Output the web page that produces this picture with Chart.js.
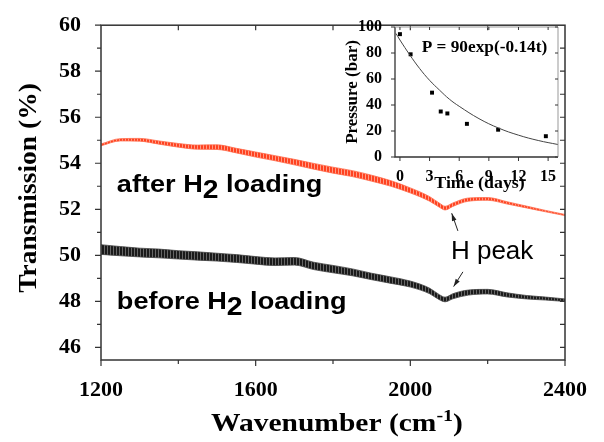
<!DOCTYPE html>
<html>
<head>
<meta charset="utf-8">
<script src="https://cdn.jsdelivr.net/npm/chart.js@4.4.0/dist/chart.umd.min.js"></script>
<style>
  html, body { margin: 0; padding: 0; background: #fff; }
  #wrap { position: relative; width: 604px; height: 442px; }
  #main { position: absolute; left: 0; top: 0; }
  #inset { position: absolute; left: 340px; top: 10px; }
</style>
</head>
<body>
<div id="wrap">
  <canvas id="main" width="604" height="442"></canvas>
  <canvas id="inset" width="225" height="185"></canvas>
</div>
<script>
// main spectra
const wavenumber = [1200, 1250, 1300, 1350, 1400, 1450, 1500, 1550, 1600, 1650, 1700, 1750, 1800, 1850,
  1900, 1950, 2000, 2050, 2075, 2090, 2110, 2150, 2200, 2250, 2300, 2350, 2400];
const afterH2 = [54.80, 55.02, 55.02, 54.90, 54.78, 54.70, 54.70, 54.55, 54.38, 54.22, 54.05, 53.87, 53.70, 53.55,
  53.35, 53.12, 52.82, 52.45, 52.18, 52.05, 52.20, 52.42, 52.45, 52.28, 52.10, 51.92, 51.75];
// width of the fringe band around each curve (%)
const afterBand = [0.08, 0.10, 0.12, 0.14, 0.16, 0.18, 0.20, 0.20, 0.22, 0.22, 0.24, 0.25, 0.26, 0.26,
  0.26, 0.24, 0.22, 0.20, 0.18, 0.16, 0.15, 0.14, 0.12, 0.10, 0.08, 0.06, 0.05];
const beforeH2 = [50.25, 50.18, 50.12, 50.08, 50.02, 49.97, 49.92, 49.86, 49.78, 49.72, 49.74, 49.54, 49.40, 49.26,
  49.08, 48.92, 48.75, 48.45, 48.18, 48.08, 48.22, 48.38, 48.42, 48.28, 48.18, 48.12, 48.05];
const beforeBand = [0.42, 0.40, 0.38, 0.38, 0.36, 0.36, 0.34, 0.34, 0.33, 0.33, 0.33, 0.32, 0.32, 0.30,
  0.28, 0.28, 0.26, 0.24, 0.22, 0.20, 0.22, 0.22, 0.20, 0.18, 0.15, 0.13, 0.11];
const transTicks = [46, 47, 48, 49, 50, 51, 52, 53, 54, 55, 56, 57, 58, 59, 60];

// inset: pressure decay
const days = [0, 1.08, 3.25, 4.13, 4.8, 6.78, 9.94, 14.77];
const pressure = [94.5, 79, 49.5, 35, 33.5, 25.5, 21, 16];
const fitDays = [-0.4, 0, 1, 2, 3, 4, 5, 6, 8, 10, 12, 14, 16];
const fitPressure = [95, 90, 78.5, 68, 59, 51.5, 44.5, 39, 29.5, 22.2, 16.8, 12.7, 9.6];
const insetDayTicks = [0, 3, 6, 9, 12, 15];

const SERIF = '"Liberation Serif", "Times New Roman", serif';
const SANS = '"Liberation Sans", Arial, sans-serif';

const mainCtx = document.getElementById('main').getContext('2d');

// vertical hatch, like the dense interference fringes
function stripes(ctx, dark, light) {
  const p = document.createElement('canvas');
  p.width = 3; p.height = 2;
  const g = p.getContext('2d');
  g.fillStyle = dark; g.fillRect(0, 0, 2, 2);
  g.fillStyle = light; g.fillRect(2, 0, 1, 2);
  return ctx.createPattern(p, 'repeat');
}

const shift = (vals, band, sign) => wavenumber.map((w, i) => ({ x: w, y: vals[i] + sign * band[i] / 2 }));

const bandLine = {
  pointRadius: 0,
  borderWidth: 0.8,
  cubicInterpolationMode: 'monotone',
};

// draw text made of parts (subscripts etc.), stretched sideways by sx
function richText(ctx, x, y, parts, align, sx, angle) {
  ctx.save();
  let total = 0;
  parts.forEach((p) => { ctx.font = p.f; p.w = ctx.measureText(p.t).width; total += p.w; });
  ctx.translate(x, y);
  if (angle) ctx.rotate(angle);
  ctx.scale(sx || 1, 1);
  let cx = align === 'center' ? -total / 2 : 0;
  ctx.textAlign = 'left';
  ctx.textBaseline = 'alphabetic';
  ctx.fillStyle = '#000';
  parts.forEach((p) => {
    ctx.font = p.f;
    ctx.fillText(p.t, cx, p.dy || 0);
    cx += p.w;
  });
  ctx.restore();
}

function arrow(ctx, x1, y1, x2, y2) {
  const a = Math.atan2(y2 - y1, x2 - x1);
  ctx.beginPath();
  ctx.moveTo(x1, y1);
  ctx.lineTo(x2, y2);
  ctx.stroke();
  ctx.beginPath();
  ctx.moveTo(x2, y2);
  ctx.lineTo(x2 - 8 * Math.cos(a - 0.3), y2 - 8 * Math.sin(a - 0.3));
  ctx.lineTo(x2 - 8 * Math.cos(a + 0.3), y2 - 8 * Math.sin(a + 0.3));
  ctx.closePath();
  ctx.fill();
}

const mainFrame = {
  id: 'mainFrame',
  afterDraw(chart) {
    const { ctx, chartArea: a, scales: { x, y } } = chart;
    ctx.save();
    ctx.strokeStyle = '#333';
    ctx.lineWidth = 1.5;
    ctx.strokeRect(a.left, a.top, a.right - a.left, a.bottom - a.top);
    ctx.lineWidth = 1.2;
    ctx.beginPath();
    y.ticks.forEach((t) => {
      const py = y.getPixelForValue(t.value);
      const len = t.value % 2 === 0 ? 6 : 4;
      ctx.moveTo(a.left - len, py); ctx.lineTo(a.left, py);
      if (t.value < 60) { ctx.moveTo(a.right, py); ctx.lineTo(a.right - 5, py); }
    });
    x.ticks.forEach((t) => {
      const px = x.getPixelForValue(t.value);
      const len = t.value % 400 === 0 ? 6 : 4;
      ctx.moveTo(px, a.bottom); ctx.lineTo(px, a.bottom + len);
      if (t.value > 1200 && t.value < 2400) { ctx.moveTo(px, a.top); ctx.lineTo(px, a.top + 5); }
    });
    ctx.stroke();

    // axis titles
    richText(ctx, 337, 431, [
      { t: 'Wavenumber (cm', f: 'bold 25px ' + SERIF },
      { t: '-1', f: 'bold 17px ' + SERIF, dy: -10 },
      { t: ')', f: 'bold 25px ' + SERIF },
    ], 'center', 1.18);
    richText(ctx, 36, 188, [{ t: 'Transmission (%)', f: 'bold 25px ' + SERIF }], 'center', 1.1, -Math.PI / 2);

    // labels and arrows
    const lab = (w, v, s) => richText(ctx, x.getPixelForValue(w), y.getPixelForValue(v), [
      { t: s + ' H', f: 'bold 24px ' + SANS },
      { t: '2', f: 'bold 25px ' + SANS, dy: 6 },
      { t: ' loading', f: 'bold 24px ' + SANS },
    ], 'left', 1.13);
    lab(1241, 52.77, 'after');
    lab(1241, 47.66, 'before');
    richText(ctx, x.getPixelForValue(2105), y.getPixelForValue(49.83),
      [{ t: 'H peak', f: '26px ' + SANS }], 'left', 1);
    ctx.strokeStyle = '#222';
    ctx.fillStyle = '#222';
    ctx.lineWidth = 1;
    arrow(ctx, x.getPixelForValue(2123), y.getPixelForValue(51.06), x.getPixelForValue(2107), y.getPixelForValue(51.83));
    arrow(ctx, x.getPixelForValue(2136), y.getPixelForValue(49.28), x.getPixelForValue(2112), y.getPixelForValue(48.64));
    ctx.restore();
  },
};

const tickFont = { family: SERIF, size: 22, weight: 'bold' };

new Chart(mainCtx, {
  type: 'line',
  data: {
    datasets: [
      { ...bandLine, data: shift(afterH2, afterBand, 1), borderColor: '#ff6a4a', fill: false },
      { ...bandLine, data: shift(afterH2, afterBand, -1), borderColor: '#ff6a4a', fill: '-1',
        backgroundColor: stripes(mainCtx, '#ff4220', '#ff9c86') },
      { ...bandLine, data: shift(beforeH2, beforeBand, 1), borderColor: '#444', fill: false },
      { ...bandLine, data: shift(beforeH2, beforeBand, -1), borderColor: '#444', fill: '-1',
        backgroundColor: stripes(mainCtx, '#1a1a1a', '#666') },
    ],
  },
  options: {
    responsive: false,
    animation: false,
    layout: { padding: { top: 18, right: 39, left: 0, bottom: 0 } },
    plugins: { legend: { display: false }, tooltip: { enabled: false } },
    scales: {
      x: {
        type: 'linear', min: 1200, max: 2400,
        grid: { display: false }, border: { display: false },
        ticks: {
          stepSize: 200, autoSkip: false, maxRotation: 0, padding: 9, color: '#000', font: tickFont,
          callback: (v) => (v % 400 === 0 ? String(v) : ''),
        },
        afterFit: (s) => { s.height = 82; },
      },
      y: {
        min: 45.45, max: 60,
        grid: { display: false }, border: { display: false },
        afterBuildTicks: (s) => { s.ticks = transTicks.map((v) => ({ value: v })); },
        ticks: {
          autoSkip: false, padding: 12, color: '#000', font: tickFont,
          callback: (v) => (v % 2 === 0 ? String(v) : ''),
        },
        afterFit: (s) => { s.width = 101; },
      },
    },
  },
  plugins: [mainFrame],
});

// ---- inset ----
const insetFrame = {
  id: 'insetFrame',
  afterDraw(chart) {
    const { ctx, chartArea: a, scales: { x, y } } = chart;
    ctx.save();
    ctx.strokeStyle = '#333';
    ctx.lineWidth = 1.3;
    ctx.beginPath();
    ctx.moveTo(a.left, a.top); ctx.lineTo(a.left, a.bottom); ctx.lineTo(a.right, a.bottom);
    ctx.stroke();
    ctx.strokeStyle = '#999';
    ctx.lineWidth = 1;
    ctx.beginPath();
    ctx.moveTo(a.left, a.top); ctx.lineTo(a.right, a.top); ctx.lineTo(a.right, a.bottom);
    ctx.stroke();
    ctx.strokeStyle = '#333';
    ctx.beginPath();
    y.ticks.forEach((t) => {
      const py = y.getPixelForValue(t.value);
      ctx.moveTo(a.left - 4, py); ctx.lineTo(a.left, py);
      ctx.moveTo(a.right, py); ctx.lineTo(a.right - 3, py);
    });
    x.ticks.forEach((t) => {
      const px = x.getPixelForValue(t.value);
      ctx.moveTo(px, a.bottom); ctx.lineTo(px, a.bottom + 4);
      ctx.moveTo(px, a.top); ctx.lineTo(px, a.top + 3);
    });
    ctx.stroke();

    richText(ctx, x.getPixelForValue(2.2), y.getPixelForValue(80.6),
      [{ t: 'P = 90exp(-0.14t)', f: 'bold 16px ' + SERIF }], 'left', 1.08);
    richText(ctx, (a.left + a.right) / 2 + 3, 178, [{ t: 'Time (days)', f: 'bold 17px ' + SERIF }], 'center', 1.05);
    richText(ctx, 17, (a.top + a.bottom) / 2, [{ t: 'Pressure (bar)', f: 'bold 17px ' + SERIF }], 'center', 1.0, -Math.PI / 2);
    ctx.restore();
  },
};

const insetFont = { family: SERIF, size: 16, weight: 'bold' };

new Chart(document.getElementById('inset'), {
  type: 'line',
  data: {
    datasets: [
      {
        data: fitDays.map((d, i) => ({ x: d, y: fitPressure[i] })),
        borderColor: '#444', borderWidth: 1, pointRadius: 0, tension: 0.4, fill: false,
      },
      {
        data: days.map((d, i) => ({ x: d, y: pressure[i] })),
        showLine: false, pointStyle: 'rect', pointRadius: 2.8,
        backgroundColor: '#000', borderColor: '#000', borderWidth: 0,
      },
    ],
  },
  options: {
    responsive: false,
    animation: false,
    layout: { padding: { top: 17, right: 7, left: 0, bottom: 0 } },
    plugins: { legend: { display: false }, tooltip: { enabled: false } },
    scales: {
      x: {
        type: 'linear', min: -0.5, max: 16,
        grid: { display: false }, border: { display: false },
        afterBuildTicks: (s) => { s.ticks = insetDayTicks.map((v) => ({ value: v })); },
        ticks: { autoSkip: false, maxRotation: 0, padding: 2, color: '#000', font: insetFont },
        afterFit: (s) => { s.height = 38; },
      },
      y: {
        min: 0, max: 100,
        grid: { display: false }, border: { display: false },
        ticks: { stepSize: 20, autoSkip: false, padding: 5, color: '#000', font: insetFont },
        afterFit: (s) => { s.width = 55; },
      },
    },
  },
  plugins: [insetFrame],
});
</script>
</body>
</html>
